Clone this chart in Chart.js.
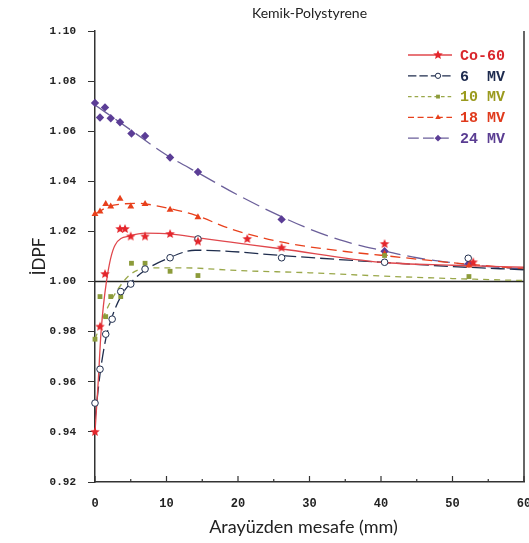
<!DOCTYPE html>
<html>
<head>
<meta charset="utf-8">
<script src="https://cdn.jsdelivr.net/npm/chart.js@4"></script>
<style>
html, body { margin: 0; padding: 0; background: #fff; }
</style>
</head>
<body>
<canvas id="idpfChart" width="529" height="543"></canvas>
<script>
// measured points (distance from interface in mm, IDPF)
const distCo60 = [0, 0.7, 1.4, 3.5, 4.2, 5.0, 7.0, 10.5, 14.4, 21.3, 26.1, 40.5, 52.9];
const idpfCo60 = [0.940, 0.982, 1.003, 1.021, 1.021, 1.018, 1.018, 1.019, 1.016, 1.017, 1.0135, 1.015, 1.0077];

const dist6 = [0, 0.7, 1.5, 2.4, 3.6, 5.0, 7.0, 10.5, 14.4, 26.1, 40.5, 52.2];
const idpf6 = [0.9515, 0.965, 0.979, 0.985, 0.996, 0.999, 1.005, 1.0095, 1.017, 1.0095, 1.0077, 1.0093];

const dist10 = [0, 0.7, 1.5, 2.2, 3.6, 5.1, 7.0, 10.5, 14.4, 40.5, 52.3];
const idpf10 = [0.977, 0.994, 0.986, 0.994, 0.994, 1.0073, 1.0073, 1.0041, 1.0024, 1.0104, 1.002];

const dist18 = [0, 0.7, 1.5, 2.2, 3.5, 5.0, 7.0, 10.5, 14.4, 40.5, 52.3];
const idpf18 = [1.027, 1.028, 1.031, 1.030, 1.033, 1.030, 1.031, 1.0287, 1.0257, 1.011, 1.0064];

const dist24 = [0, 0.7, 1.4, 2.2, 3.5, 5.1, 7.0, 10.5, 14.4, 26.1, 40.5, 52.3];
const idpf24 = [1.0713, 1.0655, 1.0695, 1.0652, 1.0636, 1.0591, 1.0581, 1.0495, 1.0437, 1.0248, 1.0121, 1.0072];

// fitted curves
const fitXCo60 = [0, 0.45, 0.85, 1.6, 2.8, 4.9, 7, 10.5, 15, 19, 26, 40, 50, 60];
const fitYCo60 = [0.940, 0.960, 0.980, 1.000, 1.0145, 1.0182, 1.0193, 1.019, 1.0172, 1.0157, 1.0131, 1.0077, 1.0065, 1.0057];

const fitX6 = [0, 0.7, 1.5, 2.4, 3.6, 5, 7, 10, 14, 18, 26, 40, 50, 60];
const fitY6 = [0.945, 0.963, 0.977, 0.986, 0.994, 0.9995, 1.0045, 1.009, 1.0125, 1.0122, 1.0104, 1.0077, 1.006, 1.0047];

const fitX10 = [0, 1.5, 3, 5, 8, 12, 20, 30, 40, 50, 60];
const fitY10 = [0.977, 0.988, 0.996, 1.003, 1.0055, 1.0055, 1.0044, 1.0035, 1.0022, 1.0012, 1.0004];

const fitX18 = [0, 2, 4, 6, 9, 14, 19, 26, 35, 40, 50, 60];
const fitY18 = [1.027, 1.030, 1.031, 1.0312, 1.030, 1.0265, 1.021, 1.0158, 1.012, 1.0105, 1.0075, 1.005];

const fitX24 = [0, 5, 10, 15, 20, 26, 30, 35, 40, 45, 50, 55, 60];
const fitY24 = [1.0705, 1.0605, 1.0505, 1.0425, 1.0345, 1.026, 1.021, 1.016, 1.0125, 1.0095, 1.0075, 1.006, 1.005];

const seriesNames = ['Co-60', '6  MV', '10 MV', '18 MV', '24 MV'];
const xTicks = [0, 10, 20, 30, 40, 50, 60];
const xMinorTicks = [5, 15, 25, 35, 45, 55];
const yTicks = [0.92, 0.94, 0.96, 0.98, 1.00, 1.02, 1.04, 1.06, 1.08, 1.10];

const lineColors = ['#e0474c', '#1f2d4d', '#9aa84a', '#e8401c', '#6b5f9a'];
const markColors = ['#e4262c', '#1f2d4d', '#8c9b3a', '#e8401c', '#5b3d96'];
const textColors = ['#d9262c', '#1d2a4e', '#9a9a1e', '#e03a1c', '#5a3d92'];
const dashes = [[], [14, 5], [6, 5], [10, 6], [18, 7]];

function toPoints(xs, ys) {
    return xs.map((x, i) => ({ x: x, y: ys[i] }));
}

function makeStar(color, r) {
    const size = Math.ceil(r * 2) + 2;
    const c = document.createElement('canvas');
    c.width = size;
    c.height = size;
    const g = c.getContext('2d');
    const cx = size / 2, cy = size / 2;
    g.beginPath();
    for (let i = 0; i < 10; i++) {
        const rad = i % 2 === 0 ? r : r * 0.45;
        const a = -Math.PI / 2 + i * Math.PI / 5;
        const px = cx + rad * Math.cos(a);
        const py = cy + rad * Math.sin(a);
        if (i === 0) g.moveTo(px, py); else g.lineTo(px, py);
    }
    g.closePath();
    g.fillStyle = color;
    g.fill();
    return c;
}

const starImg = makeStar(markColors[0], 5);

const markerStyles = [
    { pointStyle: starImg, pointRadius: 5, pointBackgroundColor: markColors[0], pointBorderColor: markColors[0], pointBorderWidth: 0 },
    { pointStyle: 'circle', pointRadius: 3.3, pointBackgroundColor: '#ffffff', pointBorderColor: markColors[1], pointBorderWidth: 1 },
    { pointStyle: 'rect', pointRadius: 3.4, pointBackgroundColor: markColors[2], pointBorderColor: markColors[2], pointBorderWidth: 0 },
    { pointStyle: 'triangle', pointRadius: 4, pointBackgroundColor: markColors[3], pointBorderColor: markColors[3], pointBorderWidth: 0 },
    { pointStyle: 'rectRot', pointRadius: 4.2, pointBackgroundColor: markColors[4], pointBorderColor: markColors[4], pointBorderWidth: 0 }
];

const pointSets = [
    toPoints(distCo60, idpfCo60), toPoints(dist6, idpf6), toPoints(dist10, idpf10),
    toPoints(dist18, idpf18), toPoints(dist24, idpf24)
];
const fitSets = [
    toPoints(fitXCo60, fitYCo60), toPoints(fitX6, fitY6), toPoints(fitX10, fitY10),
    toPoints(fitX18, fitY18), toPoints(fitX24, fitY24)
];

const datasets = [];

// reference line at IDPF = 1
datasets.push({
    label: 'ref',
    data: [{ x: 0, y: 1 }, { x: 60, y: 1 }],
    showLine: true,
    borderColor: '#222222',
    borderWidth: 1.6,
    pointRadius: 0,
    order: 20
});

fitSets.forEach((pts, i) => {
    datasets.push({
        label: seriesNames[i] + ' fit',
        data: pts,
        showLine: true,
        cubicInterpolationMode: 'monotone',
        borderColor: lineColors[i],
        borderWidth: 1.3,
        borderDash: dashes[i],
        pointRadius: 0,
        order: 10
    });
});

pointSets.forEach((pts, i) => {
    datasets.push(Object.assign({
        label: seriesNames[i],
        data: pts,
        showLine: false,
        clip: false,
        order: 1
    }, markerStyles[i]));
});

// title, axis titles, inner x ticks, right frame and the legend
const decorPlugin = {
    id: 'decor',
    afterDraw(chart) {
        const ctx = chart.ctx;
        const area = chart.chartArea;
        const xScale = chart.scales.x;
        ctx.save();

        ctx.strokeStyle = '#333333';
        ctx.lineWidth = 1.5;
        ctx.beginPath();
        ctx.moveTo(area.right, area.top);
        ctx.lineTo(area.right, area.bottom);
        ctx.stroke();

        // x ticks point up into the plot
        ctx.lineWidth = 1.2;
        ctx.beginPath();
        xTicks.forEach(v => {
            const px = xScale.getPixelForValue(v);
            ctx.moveTo(px, area.bottom);
            ctx.lineTo(px, area.bottom - 6);
        });
        xMinorTicks.forEach(v => {
            const px = xScale.getPixelForValue(v);
            ctx.moveTo(px, area.bottom);
            ctx.lineTo(px, area.bottom - 3);
        });
        ctx.stroke();

        ctx.fillStyle = '#222222';
        ctx.textAlign = 'center';
        ctx.textBaseline = 'middle';
        ctx.font = '14px Lato';
        ctx.fillText('Kemik-Polystyrene', (area.left + area.right) / 2, 13);

        ctx.font = '18px Lato';
        ctx.fillText('Arayüzden mesafe (mm)', (area.left + area.right) / 2 - 6, 527);

        ctx.save();
        ctx.translate(40, (area.top + area.bottom) / 2);
        ctx.rotate(-Math.PI / 2);
        ctx.font = '17px Lato';
        ctx.fillText('İDPF', 0, 0);
        ctx.restore();

        // legend
        const x0 = area.right - 116;
        const x1 = area.right - 72;
        const mx = area.right - 86;
        const tx = area.right - 64;
        seriesNames.forEach((name, i) => {
            const y = area.top + 24 + i * 20.8;
            ctx.strokeStyle = lineColors[i];
            ctx.lineWidth = 1.3;
            ctx.setLineDash(dashes[i].map(d => d * 0.6));
            ctx.beginPath();
            ctx.moveTo(x0, y);
            ctx.lineTo(x1, y);
            ctx.stroke();
            ctx.setLineDash([]);

            const ms = markerStyles[i];
            if (Chart.helpers && Chart.helpers.drawPoint) {
                ctx.fillStyle = ms.pointBackgroundColor;
                ctx.strokeStyle = ms.pointBorderColor;
                ctx.lineWidth = ms.pointBorderWidth;
                Chart.helpers.drawPoint(ctx, {
                    pointStyle: ms.pointStyle,
                    radius: ms.pointRadius * 0.8,
                    rotation: 0,
                    borderWidth: ms.pointBorderWidth
                }, mx, y);
            }

            ctx.fillStyle = textColors[i];
            ctx.textAlign = 'left';
            ctx.font = 'bold 15px "Liberation Mono"';
            ctx.fillText(name, tx, y + 1);
        });

        ctx.restore();
    }
};

const idpfCanvas = document.getElementById('idpfChart').getContext('2d');
const idpfChart = new Chart(idpfCanvas, {
    type: 'scatter',
    data: { datasets: datasets },
    plugins: [decorPlugin],
    options: {
        responsive: false,
        animation: false,
        events: [],
        layout: { padding: { top: 31, right: 5, left: 0, bottom: 0 } },
        plugins: {
            legend: { display: false },
            tooltip: { enabled: false },
            title: { display: false }
        },
        scales: {
            x: {
                type: 'linear',
                min: 0,
                max: 60,
                afterFit: function(scale) {
                    scale.height = 61;
                    scale.paddingLeft = 0;
                    scale.paddingRight = 0;
                },
                afterBuildTicks: function(scale) {
                    scale.ticks = xTicks.map(v => ({ value: v }));
                },
                border: { display: true, color: '#333333', width: 1.5 },
                grid: { drawOnChartArea: false, drawTicks: true, tickLength: 5, color: 'rgba(0,0,0,0)' },
                ticks: {
                    color: '#222222',
                    padding: 10,
                    maxRotation: 0,
                    font: { family: '"Liberation Mono"', size: 12, weight: 'bold' },
                    callback: v => String(v)
                }
            },
            y: {
                type: 'linear',
                min: 0.92,
                max: 1.10,
                afterFit: function(scale) {
                    scale.width = 95;
                    scale.paddingTop = 0;
                    scale.paddingBottom = 0;
                },
                afterBuildTicks: function(scale) {
                    scale.ticks = yTicks.map(v => ({ value: v }));
                },
                border: { display: true, color: '#333333', width: 1.5 },
                grid: { drawOnChartArea: false, drawTicks: true, tickLength: 7, color: '#333333' },
                ticks: {
                    color: '#222222',
                    padding: 12,
                    font: { family: '"Liberation Mono"', size: 11, weight: 'bold' },
                    callback: v => v.toFixed(2)
                }
            }
        }
    }
});
</script>
</body>
</html>
